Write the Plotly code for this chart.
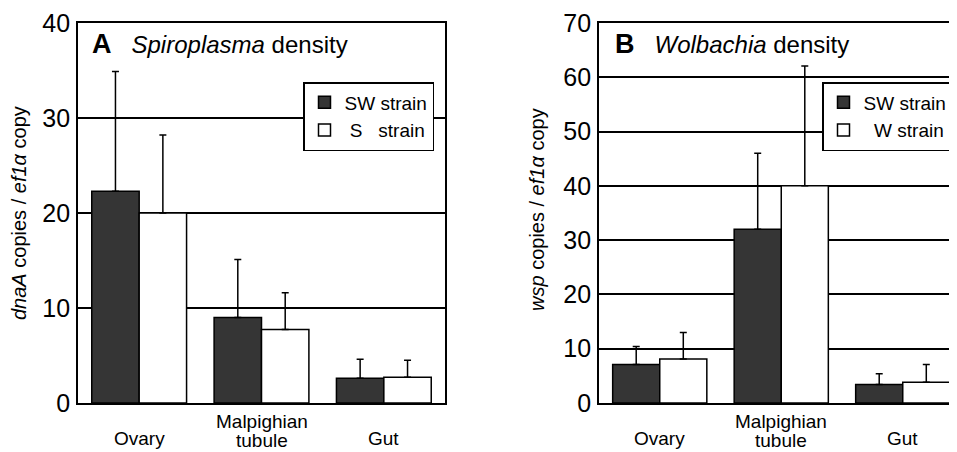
import plotly.graph_objects as go

# ---------------- data ----------------
tissues = ["Ovary", "Malpighian<br>tubule", "Gut"]

spiro_sw = [22.3, 9.0, 2.6]
spiro_sw_err = [12.6, 6.1, 2.0]
spiro_s = [20.0, 7.75, 2.7]
spiro_s_err = [8.2, 3.85, 1.8]

wol_sw = [7.1, 32.0, 3.4]
wol_sw_err = [3.3, 14.0, 2.0]
wol_w = [8.1, 40.0, 3.8]
wol_w_err = [4.9, 22.1, 3.3]

left_ticks = [0, 10, 20, 30, 40]
right_ticks = [0, 10, 20, 30, 40, 50, 60, 70]

# ---------------- styling ----------------
W, H = 957, 452
OFF = 8  # page body margin
FONT = "Arial, Liberation Sans, Helvetica, sans-serif"
DARK = "#353535"
LW = 1.8


def px_x(p):
    return (p - OFF) / W


def px_y(p):
    return (H - (p - OFF)) / H


ydom = [px_y(403), px_y(23)]


def bar(x, y, err, name, color, xa, ya, legend):
    return go.Bar(
        x=x, y=y, name=name, xaxis=xa, yaxis=ya, legend=legend,
        marker=dict(color=color, line=dict(color="black", width=1.5)),
        error_y=dict(type="data", array=err, arrayminus=[0] * len(err),
                     symmetric=False, color="black", thickness=1.5, width=3.5),
    )


fig = go.Figure()
fig.add_trace(bar(tissues, spiro_sw, spiro_sw_err, "SW strain", DARK, "x", "y", "legend"))
fig.add_trace(bar(tissues, spiro_s, spiro_s_err, "\u00a0S\u00a0\u00a0\u00a0strain", "white", "x", "y", "legend"))
fig.add_trace(bar(tissues, wol_sw, wol_sw_err, "SW strain", DARK, "x2", "y2", "legend2"))
fig.add_trace(bar(tissues, wol_w, wol_w_err, "\u00a0\u00a0W\u00a0strain", "white", "x2", "y2", "legend2"))

cat_w_right = 121.5
axis_common = dict(showline=True, linecolor="black", linewidth=LW, automargin=False,
                   showgrid=False, zeroline=False, ticks="", showticklabels=False,
                   type="category", categoryorder="array", categoryarray=tissues)
yaxis_common = dict(showline=True, linecolor="black", linewidth=LW, automargin=False,
                    showgrid=True, gridcolor="black", gridwidth=LW,
                    zeroline=False, ticks="outside", ticklen=1,
                    tickcolor="rgba(0,0,0,0)",
                    tickfont=dict(family=FONT, size=25, color="black"))

fig.update_layout(
    width=W, height=H,
    margin=dict(l=0, r=0, t=0, b=0, autoexpand=False),
    paper_bgcolor="white", plot_bgcolor="white",
    barmode="group", bargap=0.225, bargroupgap=0,
    font=dict(family=FONT, color="black"),
    xaxis=dict(domain=[px_x(78), px_x(445)], range=[-0.5, 2.5], anchor="y",
               mirror=True, **axis_common),
    yaxis=dict(domain=ydom, range=[0, 40], tickvals=left_ticks, anchor="x",
               mirror=True, **yaxis_common),
    xaxis2=dict(domain=[px_x(599), px_x(957)], range=[-0.5, -0.5 + (957 - 599) / cat_w_right],
                anchor="y2", mirror=True, **axis_common),
    yaxis2=dict(domain=ydom, range=[0, 70], tickvals=right_ticks, anchor="x2",
                mirror=False, **yaxis_common),
    legend=dict(x=px_x(303), y=px_y(82), xanchor="left", yanchor="top",
                bgcolor="white", bordercolor="black", borderwidth=1.5,
                font=dict(family=FONT, size=19, color="black")),
    legend2=dict(x=px_x(822), y=px_y(82), xanchor="left", yanchor="top",
                 bgcolor="white", bordercolor="black", borderwidth=1.5,
                 font=dict(family=FONT, size=19, color="black")),
    showlegend=True,
)

annotations = []
# panel titles
annotations.append(dict(xref="paper", yref="paper", x=px_x(90), y=px_y(44),
                        xanchor="left", yanchor="middle", showarrow=False,
                        text="<span style='font-size:27px'><b>A</b></span>\u00a0\u00a0\u00a0<i>Spiroplasma</i> density",
                        font=dict(family=FONT, size=24, color="black")))
annotations.append(dict(xref="paper", yref="paper", x=px_x(613), y=px_y(44),
                        xanchor="left", yanchor="middle", showarrow=False,
                        text="<span style='font-size:27px'><b>B</b></span>\u00a0\u00a0\u00a0<i>Wolbachia</i> density",
                        font=dict(family=FONT, size=24, color="black")))
# y-axis titles
annotations.append(dict(xref="paper", yref="paper", x=px_x(19), y=px_y(213),
                        xanchor="center", yanchor="middle", showarrow=False, textangle=-90,
                        text="<i>dnaA</i> copies / <i>ef1\u03b1</i> copy",
                        font=dict(family=FONT, size=20, color="black")))
annotations.append(dict(xref="paper", yref="paper", x=px_x(537), y=px_y(210),
                        xanchor="center", yanchor="middle", showarrow=False, textangle=-90,
                        text="<i>wsp</i> copies / <i>ef1\u03b1</i> copy",
                        font=dict(family=FONT, size=20, color="black")))
# category labels (each line placed separately)
for xa in ["x", "x2"]:
    for t in tissues:
        lines = t.split("<br>")
        if len(lines) == 1:
            ys = [438]
        else:
            ys = [421, 440]
        for line, yp in zip(lines, ys):
            annotations.append(dict(xref=xa, yref="paper", x=t, y=px_y(yp),
                                    xanchor="center", yanchor="middle", showarrow=False,
                                    text=line, font=dict(family=FONT, size=19, color="black")))
fig.update_layout(annotations=annotations)

fig.write_html("out.html")
